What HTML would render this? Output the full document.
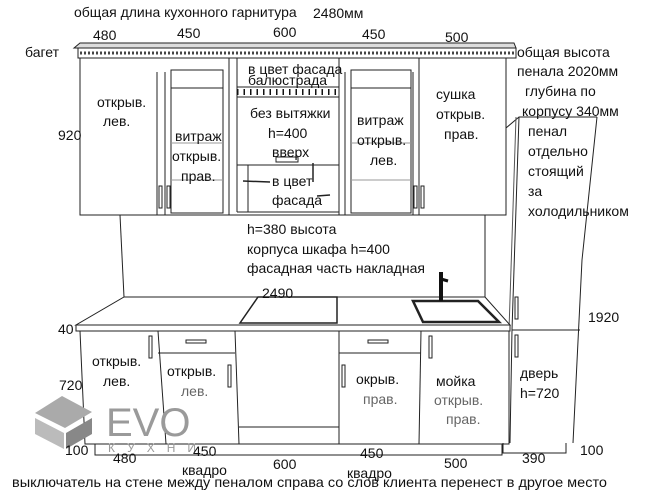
<!DOCTYPE html>
<html><head><meta charset="utf-8"><style>
html,body{margin:0;padding:0;background:#fff;}
svg{display:block;}
text{font-family:"Liberation Sans Narrow","Liberation Sans",sans-serif;font-size:14px;fill:#111;}
.g{fill:#666;}
</style></head><body>
<svg width="647" height="492" viewBox="0 0 647 492" xmlns="http://www.w3.org/2000/svg">
<g fill="none" stroke="#222" stroke-width="1">
<!-- cornice -->
<path d="M74 48 L80 43 L514 43 L516 48 Z" fill="#ddd"/>
<rect x="78" y="48" width="438" height="10" fill="#fff"/>
<line x1="80" y1="53" x2="514" y2="53" stroke="#444" stroke-width="3" stroke-dasharray="2,2"/>
<!-- upper cabinets -->
<rect x="80" y="58" width="426" height="157" fill="#fff"/>
<line x1="157" y1="72" x2="157" y2="215"/>
<line x1="165" y1="72" x2="165" y2="215"/>
<rect x="171" y="70" width="52" height="143"/>
<line x1="171" y1="88" x2="223" y2="88"/>
<line x1="171" y1="143" x2="223" y2="143" stroke="#999"/>
<line x1="171" y1="180" x2="223" y2="180" stroke="#999"/>
<line x1="229" y1="58" x2="229" y2="215"/>
<line x1="237" y1="58" x2="237" y2="212"/>
<line x1="339" y1="58" x2="339" y2="215"/>
<line x1="345" y1="72" x2="345" y2="215"/>
<rect x="351" y="70" width="60" height="143"/>
<line x1="351" y1="88" x2="411" y2="88"/>
<line x1="351" y1="143" x2="411" y2="143" stroke="#999"/>
<line x1="351" y1="180" x2="411" y2="180" stroke="#999"/>
<line x1="413" y1="72" x2="413" y2="215"/>
<line x1="419" y1="58" x2="419" y2="215"/>
<!-- middle -->
<rect x="237" y="87" width="102" height="10" fill="#fff"/>
<line x1="237" y1="92" x2="339" y2="92" stroke="#111" stroke-width="6" stroke-dasharray="1.5,5"/>
<rect x="237" y="97" width="102" height="68" fill="#fff"/>
<rect x="276" y="157" width="22" height="5"/>
<line x1="248" y1="165" x2="248" y2="212"/>
<line x1="237" y1="212" x2="339" y2="212"/>
<line x1="313" y1="163" x2="313" y2="182" stroke-width="1.5"/>
<line x1="243" y1="181" x2="270" y2="182" stroke-width="1.5"/>
<line x1="317" y1="196" x2="330" y2="195" stroke-width="1.5"/>
<!-- upper handles -->
<rect x="159" y="186" width="3" height="22"/><rect x="167" y="186" width="3" height="22"/>
<rect x="414" y="186" width="3" height="22"/><rect x="421" y="186" width="3" height="22"/>
<!-- wall -->
<line x1="120" y1="215" x2="124" y2="297"/>
<line x1="485" y1="215" x2="485" y2="302"/>
<!-- pencil -->
<path d="M506 128 L519 117 L597 117"/>
<path d="M519 117 L512 330 L510 443"/>
<path d="M516 117 L509 330" stroke="#555"/>
<path d="M597 117 L582 260 L573 443"/>
<line x1="512" y1="330" x2="580" y2="330"/>
<path d="M503 443 L503 453 L566 453 L566 443"/>
<rect x="515" y="297" width="3" height="22"/><rect x="515" y="335" width="3" height="22"/>
<!-- countertop -->
<path d="M124 297 L485 297 L510 325 L76 325 Z" fill="#fff"/>
<rect x="76" y="325" width="434" height="6" fill="#fff"/>
<path d="M258 297 L337 297 L337 323 L240 323 Z" stroke-width="1.5"/>
<path d="M413 301 L478 301 L499 322 L423 322 Z" stroke-width="2.5"/>
<line x1="441" y1="272" x2="441" y2="301" stroke-width="4" stroke="#111"/>
<line x1="441" y1="279" x2="448" y2="281" stroke-width="3" stroke="#111"/>
<!-- base cabinets -->
<path d="M80 331 L85 444 L509 444 L509 331"/>
<line x1="158" y1="331" x2="166" y2="444"/>
<line x1="235" y1="331" x2="239" y2="444"/>
<line x1="339" y1="331" x2="339" y2="444"/>
<line x1="421" y1="331" x2="419" y2="444"/>
<line x1="158" y1="353" x2="235" y2="353"/>
<line x1="339" y1="353" x2="421" y2="353"/>
<line x1="239" y1="427" x2="339" y2="427"/>
<rect x="186" y="340" width="20" height="3"/><rect x="368" y="340" width="20" height="3"/>
<rect x="149" y="336" width="3" height="22"/><rect x="228" y="365" width="3" height="22"/>
<rect x="342" y="365" width="3" height="22"/><rect x="429" y="336" width="3" height="22"/>
<path d="M95 444 L95 455 L502 455 L502 444"/>
</g>
<!-- EVO logo -->
<g fill="#999">
<path d="M35 413 L62 396 L92 412 L65 428 Z" fill="#aaa"/>
<path d="M35 418 L64 433 L64 449 L35 434 Z" fill="#bbb"/>
<path d="M66 433 L92 418 L92 434 L66 449 Z" fill="#888"/>
</g>
<text x="106" y="436" style="font-size:40px;fill:#9a9a9a;font-family:'Liberation Sans',sans-serif">EVO</text>
<text x="108" y="452" style="font-size:12px;fill:#999;letter-spacing:12px">КУХНИ</text>
<!-- labels -->
<text x="74" y="17">общая длина кухонного гарнитура</text><text x="313" y="18">2480мм</text>
<text x="93" y="40">480</text><text x="177" y="38">450</text><text x="273" y="37">600</text><text x="362" y="39">450</text><text x="445" y="42">500</text>
<text x="25" y="57">багет</text>
<text x="517" y="57">общая высота</text><text x="517" y="76">пенала 2020мм</text>
<text x="525" y="96">глубина по</text><text x="522" y="116">корпусу  340мм</text>
<text x="528" y="136">пенал</text><text x="528" y="156">отдельно</text><text x="528" y="176">стоящий</text><text x="528" y="196">за</text><text x="528" y="216">холодильником</text>
<text x="58" y="140">920</text>
<text x="97" y="107">открыв.</text><text x="103" y="126">лев.</text>
<text x="175" y="141">витраж</text><text x="172" y="161">открыв.</text><text x="181" y="181">прав.</text>
<text x="248" y="74">в цвет фасада</text><text x="248" y="85">балюстрада</text>
<text x="250" y="118">без вытяжки</text><text x="268" y="138">h=400</text><text x="272" y="157">вверх</text>
<text x="272" y="186">в цвет</text><text x="272" y="205">фасада</text>
<text x="357" y="125">витраж</text><text x="357" y="145">открыв.</text><text x="370" y="165">лев.</text>
<text x="436" y="99">сушка</text><text x="436" y="119">открыв.</text><text x="444" y="139">прав.</text>
<text x="247" y="234">h=380 высота</text><text x="247" y="254">корпуса шкафа h=400</text><text x="247" y="273">фасадная часть накладная</text>
<text x="262" y="298">2490</text>
<text x="58" y="334">40</text><text x="588" y="322">1920</text>
<text x="92" y="366">открыв.</text><text x="103" y="386">лев.</text>
<text x="167" y="376">открыв.</text><text x="181" y="396" class="g">лев.</text>
<text x="59" y="390">720</text>
<text x="356" y="384">окрыв.</text><text x="363" y="404" class="g">прав.</text>
<text x="436" y="386">мойка</text><text x="434" y="405" class="g">открыв.</text><text x="446" y="424" class="g">прав.</text>
<text x="520" y="378">дверь</text><text x="520" y="398">h=720</text>
<text x="65" y="455">100</text><text x="113" y="463">480</text><text x="193" y="456">450</text><text x="273" y="469">600</text>
<text x="360" y="458">450</text><text x="444" y="468">500</text><text x="522" y="463">390</text><text x="580" y="455">100</text>
<text x="182" y="475">квадро</text><text x="347" y="478">квадро</text>
<text x="12" y="487" textLength="595" lengthAdjust="spacingAndGlyphs">выключатель на стене между пеналом справа со слов клиента перенест в другое место</text>
</svg>
</body></html>
